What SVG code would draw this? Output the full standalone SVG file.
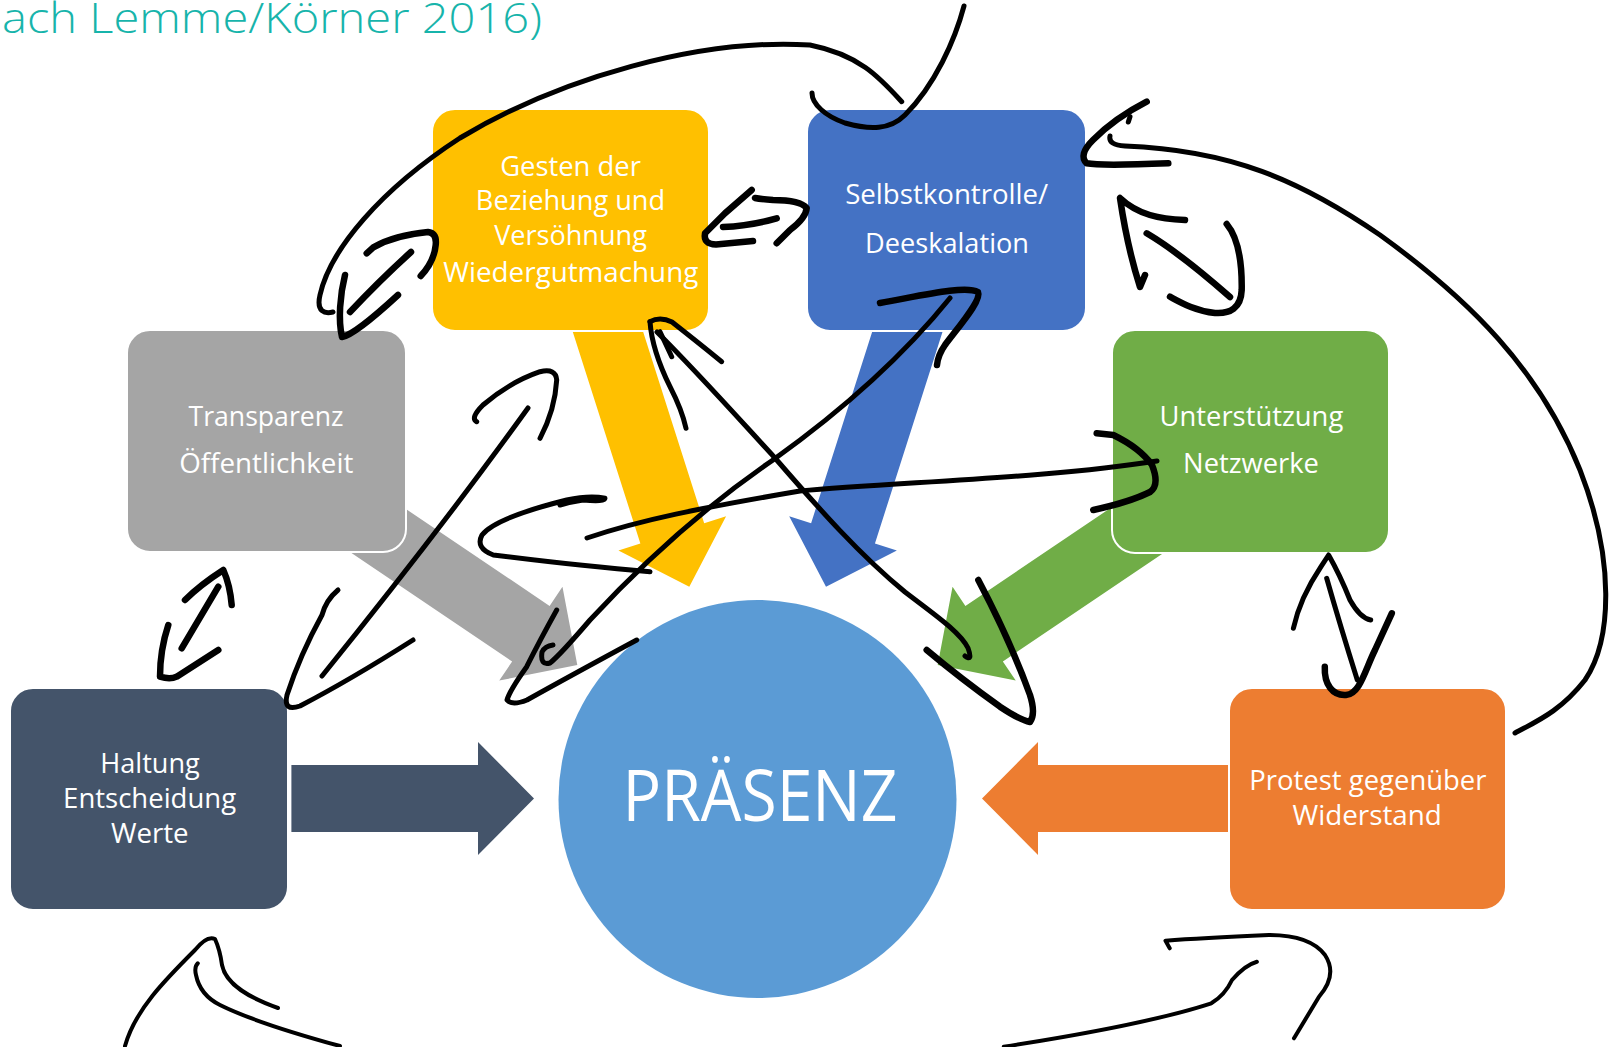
<svg xmlns="http://www.w3.org/2000/svg" width="1614" height="1047" viewBox="0 0 1614 1047">
<defs>
<style>
.box{stroke:#fff;stroke-width:2}
.lbl{font-family:"Open Sans","Liberation Sans",sans-serif;font-size:27px;fill:#fff;text-anchor:middle}
.ink{fill:none;stroke:#000;stroke-width:5;stroke-linecap:round;stroke-linejoin:round}
.thick{stroke-width:6.5}
.thin{stroke-width:4}
</style>
<polygon id="arr0" points="-242.6,-33.5 -56,-33.5 -56,-56.5 0,0 -56,56.5 -56,33.5 -242.6,33.5"/>
<polygon id="arrLong" points="-296,-33.5 -56,-33.5 -56,-56.5 0,0 -56,56.5 -56,33.5 -296,33.5"/>
<polygon id="arrDiag" points="-286,-33.5 -56,-33.5 -56,-56.5 0,0 -56,56.5 -56,33.5 -286,33.5"/>
</defs>
<rect width="1614" height="1047" fill="#fff"/>
<text x="2" y="33" font-family="'Open Sans','Liberation Sans',sans-serif" font-weight="300" font-size="42" fill="#17B4AB" textLength="540" lengthAdjust="spacingAndGlyphs">ach Lemme/Körner 2016)</text>

<g id="connectors">
<g id="block-arrows">
<use href="#arr0" transform="translate(534,798.5)" fill="#44546A"/>
<polygon points="1232,765 1038,765 1038,742 982,798.5 1038,855 1038,832 1232,832" fill="#ED7D31"/>
<use href="#arrLong" transform="translate(689.3,586.7) rotate(72.3)" fill="#FFC000"/>
<use href="#arrLong" transform="translate(826,586.7) rotate(107.7)" fill="#4472C4"/>
<use href="#arrDiag" transform="translate(577.3,665) rotate(34)" fill="#A5A5A5"/>
<use href="#arrDiag" transform="translate(937.7,665) rotate(146)" fill="#70AD47"/>
</g>
</g>

<g id="node-praesenz">
<circle cx="757.5" cy="799" r="199" fill="#5B9BD5"/>
<text x="760" y="821" font-family="'Open Sans','Liberation Sans',sans-serif" font-size="72" fill="#fff" text-anchor="middle" textLength="275" lengthAdjust="spacingAndGlyphs">PRÄSENZ</text>
</g>
<g id="node-gesten">
<rect class="box" x="432" y="109" width="277" height="222" rx="23" fill="#FFC000"/>
<text class="lbl" x="570.5" y="176" textLength="140.7" lengthAdjust="spacingAndGlyphs">Gesten der</text>
<text class="lbl" x="570.5" y="210" textLength="189.3" lengthAdjust="spacingAndGlyphs">Beziehung und</text>
<text class="lbl" x="570.5" y="245" textLength="152.7" lengthAdjust="spacingAndGlyphs">Versöhnung</text>
<text class="lbl" x="570.8" y="281.7" textLength="255" lengthAdjust="spacingAndGlyphs">Wiedergutmachung</text>
</g>
<g id="node-selbstkontrolle">
<rect class="box" x="807" y="109" width="279" height="222" rx="23" fill="#4472C4"/>
<text class="lbl" x="946.7" y="204" textLength="203" lengthAdjust="spacingAndGlyphs">Selbstkontrolle/</text>
<text class="lbl" x="947" y="252.7" textLength="164" lengthAdjust="spacingAndGlyphs">Deeskalation</text>
</g>
<g id="node-transparenz">
<rect class="box" x="127" y="330" width="279" height="222" rx="23" fill="#A5A5A5"/>
<text class="lbl" x="266" y="426" textLength="155" lengthAdjust="spacingAndGlyphs">Transparenz</text>
<text class="lbl" x="266.3" y="473.3" textLength="174" lengthAdjust="spacingAndGlyphs">Öffentlichkeit</text>
</g>
<g id="node-unterstuetzung">
<rect class="box" x="1112" y="330" width="277" height="223" rx="23" fill="#70AD47"/>
<text class="lbl" x="1251.4" y="426" textLength="183.7" lengthAdjust="spacingAndGlyphs">Unterstützung</text>
<text class="lbl" x="1251" y="473.3" textLength="135.8" lengthAdjust="spacingAndGlyphs">Netzwerke</text>
</g>
<g id="node-haltung">
<rect class="box" x="10" y="688" width="278" height="222" rx="23" fill="#44546A"/>
<text class="lbl" x="150" y="772.7" textLength="99.5" lengthAdjust="spacingAndGlyphs">Haltung</text>
<text class="lbl" x="149.6" y="807.7" textLength="173" lengthAdjust="spacingAndGlyphs">Entscheidung</text>
<text class="lbl" x="149.8" y="842.7" textLength="77.7" lengthAdjust="spacingAndGlyphs">Werte</text>
</g>
<g id="node-protest">
<rect class="box" x="1229" y="688" width="277" height="222" rx="23" fill="#ED7D31"/>
<text class="lbl" x="1367.9" y="790" textLength="237.2" lengthAdjust="spacingAndGlyphs">Protest gegenüber</text>
<text class="lbl" x="1367.2" y="825" textLength="149.4" lengthAdjust="spacingAndGlyphs">Widerstand</text>
</g>

<g id="ink-connectors">
<path class="ink" d="M901.7,101.7 C880,78 860,55 810,45 C700,38 560,78 460,138 C380,190 330,250 320,295 C316,312 325,314 333,312"/>
<path class="ink" d="M964,6 C955,40 935,85 905,115 C890,130 870,130 845,123 C825,116 812,104 812,93"/>
<path class="ink thick" d="M350,312 Q380,280 411,252"/>
<path class="ink thick" d="M366.7,253.3 L373.3,247.3 Q395,235 428,232 Q437,233 435.7,245 Q434,262 420.7,276"/>
<path class="ink thick" d="M345,275 C340,295 338,320 342,337 C348,336 360,330 398,295"/>
<path class="ink thick" d="M751.7,190 L725,213.3 L705,233.3 Q703,244 716,244.5 L753,241"/>
<path class="ink thick" d="M723,227 Q750,226 776.7,218.3"/>
<path class="ink thick" d="M755,198 Q760,199 773,200 Q800,200 806.7,208 Q806,218 790,230 L776.7,243.3"/>
<path class="ink" d="M1110,136 Q1108,145 1125,146 C1230,150 1300,180 1380,235 C1470,300 1540,370 1580,470 C1615,560 1612,640 1585,680 C1560,712 1535,722 1515,733"/>
<path class="ink thick" d="M1146.7,101.7 Q1115,118 1093,140 Q1078,155 1086.7,163.3 Q1100,166 1168.3,163.3"/>
<path class="ink" d="M1130,116.7 L1128.3,122"/>
<path class="ink thick" d="M1185,220 C1160,219 1138,215 1120,198 C1124,225 1132,262 1140,287 L1145,275"/>
<path class="ink thick" d="M1146.7,233.3 C1175,250 1205,275 1230,297"/>
<path class="ink thick" d="M1226.7,224 C1240,240 1242,270 1241.7,290 C1241,308 1230,314 1215,313 C1195,311 1180,302 1170,296.7"/>
<path class="ink" d="M1293.4,628.3 Q1300,598 1321,566.7 L1328.6,555 Q1340,575 1350,600 Q1360,618 1370.7,620"/>
<path class="ink" d="M1326.7,578.3 Q1340,625 1357.3,680"/>
<path class="ink thick" d="M1324.8,666.7 C1324,685 1333,696 1346,695 C1360,694 1365,670 1375,650 L1391.8,613.3"/>
<path class="ink thick" d="M185,600 Q200,585 223.3,570 Q230,585 231.7,605"/>
<path class="ink thick" d="M218.3,586.7 L181.7,648.3"/>
<path class="ink thick" d="M168.3,625 Q160,650 160,676.7 Q170,680 176.7,676.7 L218.3,650"/>
<path class="ink" d="M322,676 Q440,530 528,408"/>
<path class="ink" d="M476.7,421.7 Q470,418 483,405 Q510,382 540,371.7 Q556,368 556.7,380 Q555,410 540,438.3"/>
<path class="ink" d="M338,590 Q326,600 322,615 Q300,655 287,695 Q283,712 300,706 Q350,680 413,640"/>
<path class="ink" d="M650,321.7 Q660,316 672,322 Q695,340 721.7,361.7"/>
<path class="ink" d="M650,321.7 Q652,350 670,386.7 Q682,410 686,428.3"/>
<path class="ink" d="M660,331.7 L671.7,356.7"/>
<path class="ink" d="M657,332 C700,375 740,420 775,458 C820,510 860,555 905,592 C935,615 960,632 968,648 Q973,662 965,656"/>
<path class="ink thick" d="M926.7,650 Q960,678 1000,706.7 Q1020,720 1030,722 Q1036,714 1030,695 Q1010,640 978.3,580"/>
<path class="ink thick" d="M880,303 C920,296 965,285 978,292 C982,300 960,325 945,345 Q938,355 937,365"/>
<path class="ink" d="M950,298 C900,360 840,412 773,460 C700,510 640,566 590,620 Q560,655 550,663 Q540,666 542,652 Q545,646 553,645"/>
<path class="ink" d="M556.7,610 Q540,640 526.7,666.7 Q510,690 507,700 Q512,706 527,700 Q570,676 636.7,640"/>
<path class="ink" d="M587,538 C640,520 700,508 800,491 C900,482 1050,478 1157,461"/>
<path class="ink thick" d="M1096.7,433.3 L1113.3,435 Q1140,448 1152,465 Q1160,485 1150,492 Q1130,502 1093.3,510"/>
<path class="ink" d="M650,571.7 Q580,566 493.3,555 Q475,548 482,535 Q495,518 566.7,500 Q590,495 605,498.3 Q605,502 583,500 Q570,502 560,505"/>
<path class="ink thin" d="M125,1046 C135,1010 165,980 195,950 Q207,935 215,939 Q220,950 222,965 C226,985 250,998 278,1008"/>
<path class="ink thin" d="M197.8,963.3 Q194,967 196,975 Q200,995 220,1005 C250,1020 300,1035 340,1046"/>
<path class="ink thin" d="M1003.8,1046.7 C1080,1035 1160,1020 1211.3,1003.3 Q1225,995 1232,980 Q1245,965 1256.9,961.7"/>
<path class="ink thin" d="M1169.7,948.3 L1165.5,940.7 Q1200,938 1269,935 Q1310,935 1325,955 Q1338,975 1319,996.7 L1294,1038.3"/>
</g>
</svg>
